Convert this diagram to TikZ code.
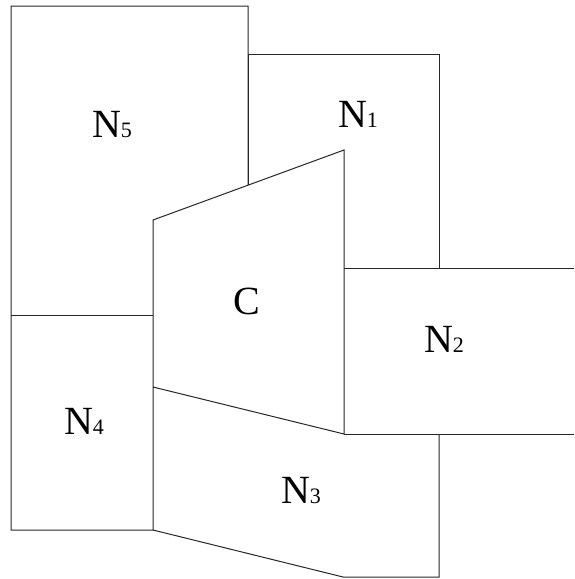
\documentclass[tikz,border=0pt]{standalone}
\usepackage{fontspec}
\setmainfont{Liberation Serif}
\usetikzlibrary{positioning}
\newcommand{\sub}[1]{{\fontsize{22}{22}\selectfont #1}}

\begin{document}
\begin{tikzpicture}[
  x=1pt, y=-1pt,
  edge/.style={draw=black!85, line width=1pt, line join=miter},
  region/.style={font=\fontsize{40}{40}\selectfont, inner sep=0pt}
]
  \useasboundingbox (0,0) rectangle (574,579);

  % corner points
  \coordinate (tl) at (11,6);
  \coordinate (tm) at (248,6);
  \coordinate (n1l) at (248,185);
  \coordinate (n1tl) at (248,54);
  \coordinate (n1tr) at (439,54);
  \coordinate (n1br) at (439,268);
  \coordinate (ctl) at (153,220);
  \coordinate (ctr) at (344,150);
  \coordinate (cbr) at (344,434);
  \coordinate (cbl) at (153,387);
  \coordinate (ml) at (11,315);
  \coordinate (mm) at (153,315);
  \coordinate (bl) at (11,530);
  \coordinate (bm) at (153,530);
  \coordinate (n2tr) at (574,268);
  \coordinate (n2br) at (574,434);
  \coordinate (n3tr) at (439,434);
  \coordinate (n3br) at (439,577);
  \coordinate (n3bl) at (343,577);

  % outlines
  \draw[edge] (n1l) -- (tm) -- (tl) -- (bl) -- (bm) -- (ctl) -- (ctr) -- (cbr) -- (cbl);
  \draw[edge] (ml) -- (mm);
  \draw[edge] (n1l) -- (n1tl) -- (n1tr) -- (n1br);
  \draw[edge] (ctr |- n1br) -- (n2tr);
  \draw[edge] (cbr) -- (n2br);
  \draw[edge] (n3tr) -- (n3br) -- (n3bl) -- (bm);

  % labels
  \node[region] (N5) at (112,125) {N\sub{5}};
  \node[region] (N1) at (358,114) {N\sub{1}};
  \node[region] (C) at (247,301) {C};
  \node[region] (N2) at (444,339) {N\sub{2}};
  \node[region] (N4) at (84,421) {N\sub{4}};
  \node[region] (N3) at (301,491) {N\sub{3}};
\end{tikzpicture}
\end{document}
